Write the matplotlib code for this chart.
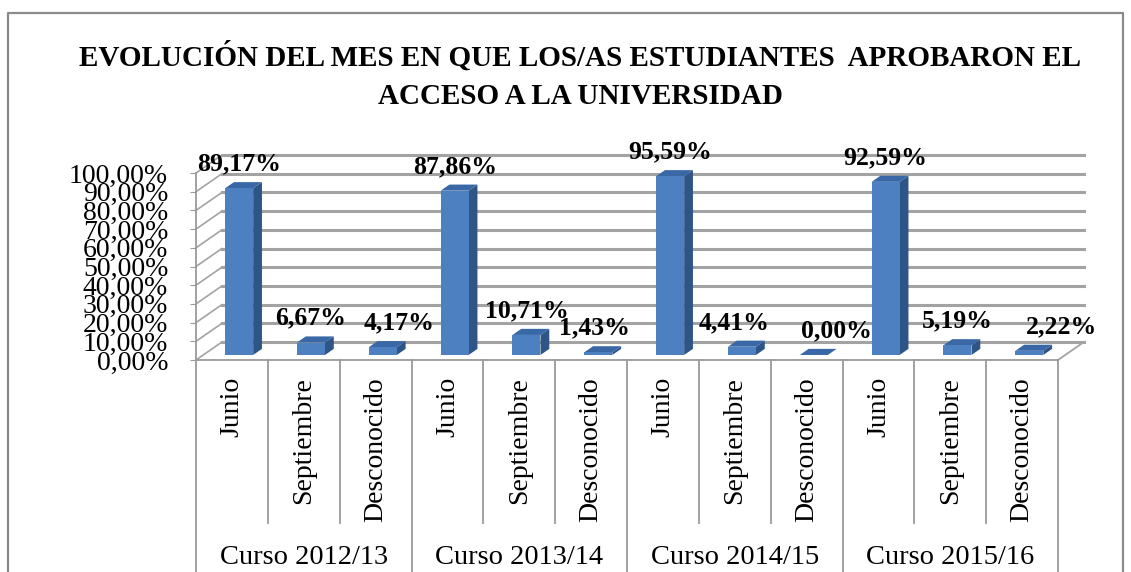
import matplotlib
matplotlib.use("Agg")
import matplotlib.pyplot as plt
from matplotlib.patches import Polygon, Rectangle
from matplotlib.lines import Line2D

# data
cursos = ["Curso 2012/13", "Curso 2013/14", "Curso 2014/15", "Curso 2015/16"]
meses = ["Junio", "Septiembre", "Desconocido"]
curso_1213 = [89.17, 6.67, 4.17]
curso_1314 = [87.86, 10.71, 1.43]
curso_1415 = [95.59, 4.41, 0.00]
curso_1516 = [92.59, 5.19, 2.22]
y_ticks = list(range(0, 101, 10))

valores = curso_1213 + curso_1314 + curso_1415 + curso_1516
categorias = meses * len(cursos)

# layout of the fake 3D box (category units / percent units)
DX, DY = 0.36, 9.6          # depth offset of the back wall
D0, D1 = 0.28, 0.62         # depth at which bars start / end
BAR_W = 0.39
# label nudges in pixels (Excel moved a few of them sideways)
label_dx_px = [0, 0, 16, 0, 0, -4, 0, -8, 23, 0, 0, 32]

W, H = 1131, 572
fig = plt.figure(figsize=(W / 100, H / 100), dpi=100)
fig.patch.set_facecolor("white")

# outer frame (bottom edge runs off the image)
fig.add_artist(Line2D([8 / W, 8 / W, 1123 / W, 1123 / W], [0, 1 - 13 / H, 1 - 13 / H, 0],
                      transform=fig.transFigure, color="#8a8a8a", lw=1.6))

serif = "Liberation Serif"
fig.text(580 / W, 1 - 57 / H, "EVOLUCIÓN DEL MES EN QUE LOS/AS ESTUDIANTES  APROBARON EL",
         ha="center", va="center", fontsize=21, fontweight="bold", family=serif)
fig.text(580 / W, 1 - 97 / H, "ACCESO A LA UNIVERSIDAD",
         ha="center", va="center", fontsize=21, fontweight="bold", family=serif)

ax = fig.add_axes([196 / W, 1 - 360 / H, 862 / W, 187 / H])
n = len(valores)
ax.set_xlim(0, n)
ax.set_ylim(0, 100)
ax.set_facecolor("none")
for s in ["top", "right"]:
    ax.spines[s].set_visible(False)
for s in ["left", "bottom"]:
    ax.spines[s].set_color("#9a9a9a")
    ax.spines[s].set_linewidth(1.3)

ax.set_xticks([])
ax.set_yticks(y_ticks)
ax.set_yticklabels([f"{v:.2f}%".replace(".", ",") for v in y_ticks], family=serif, fontsize=20)
ax.tick_params(axis="y", length=4, color="#9a9a9a", pad=16)

grid_c = "#a3a3a3"
# back wall gridlines and left wall diagonals
for v in y_ticks:
    ax.plot([DX, n + DX], [v + DY, v + DY], color=grid_c, lw=2.2, clip_on=False, zorder=1)
    ax.plot([0, DX], [v, v + DY], color=grid_c, lw=1.2, clip_on=False, zorder=1)
# right edge of the floor
ax.plot([n, n + DX], [0, DY], color=grid_c, lw=1.3, clip_on=False, zorder=1)

# bars
front_c, side_c, top_c = "#4d80c0", "#2f5486", "#3a68a6"
ox, oy = (D1 - D0) * DX, (D1 - D0) * DY
for i, v in enumerate(valores):
    c = i + 0.5
    x0 = c - BAR_W / 2 + D0 * DX
    x1 = x0 + BAR_W
    y0 = D0 * DY
    y1 = v + y0
    ax.add_patch(Polygon([(x1, y0), (x1 + ox, y0 + oy), (x1 + ox, y1 + oy), (x1, y1)],
                         closed=True, facecolor=side_c, edgecolor="none", zorder=3, clip_on=False))
    ax.add_patch(Polygon([(x0, y1), (x1, y1), (x1 + ox, y1 + oy), (x0 + ox, y1 + oy)],
                         closed=True, facecolor=top_c, edgecolor="none", zorder=3, clip_on=False))
    ax.add_patch(Rectangle((x0, y0), BAR_W, v, facecolor=front_c, edgecolor="none",
                           zorder=4, clip_on=False))
    ax.annotate(f"{v:.2f}%".replace(".", ","), xy=(x0 + BAR_W / 2, y1),
                xytext=(label_dx_px[i] * 0.72, 17.5), textcoords="offset points",
                ha="center", va="center", fontsize=18.5, fontweight="bold",
                family=serif, zorder=6, annotation_clip=False)

# category axis below the floor
ypx = lambda p: (360 - p) / 1.87   # pixel row -> data units
for k in range(n + 1):
    bottom = ypx(580) if k % 3 == 0 else ypx(523)
    ax.plot([k, k], [0, bottom], color="#9a9a9a", lw=1.3, clip_on=False)
for i, name in enumerate(categorias):
    ax.text(i + 0.5, ypx(377), name, rotation=90, ha="center", va="top",
            fontsize=20, family=serif)
for g, name in enumerate(cursos):
    ax.text(g * 3 + 1.5, ypx(557), name, ha="center", va="center",
            fontsize=20.5, family=serif)

fig.savefig("out.png", dpi=100)
